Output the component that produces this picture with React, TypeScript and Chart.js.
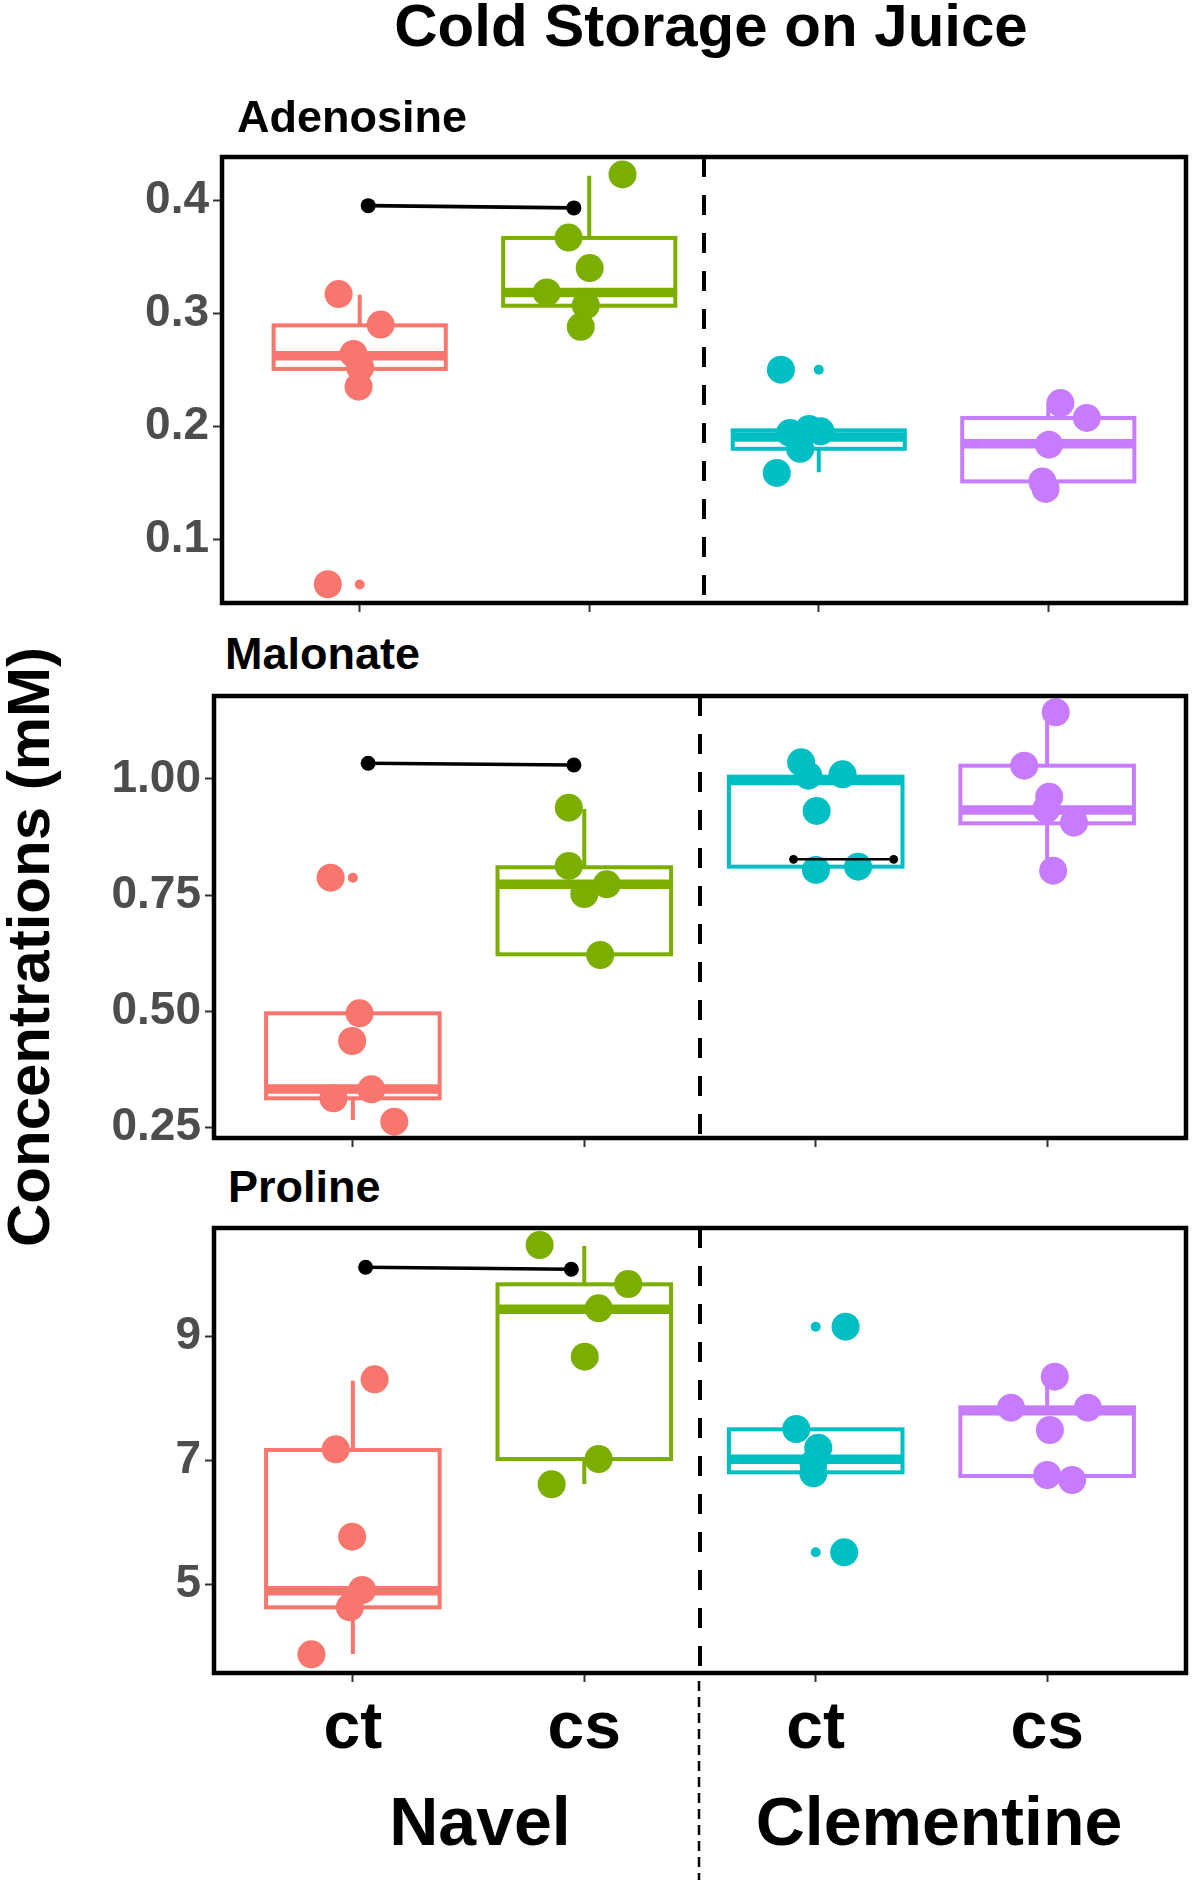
import React, { useEffect, useRef } from 'react';
import { Chart, registerables } from 'chart.js';

Chart.register(...registerables);

// ---------- shared categories ----------
const CATEGORY_LABELS = ['ct', 'cs', 'ct', 'cs'];
const CATEGORY_POS = [1, 2, 3, 4];
const VARIETY_LABELS = ['Navel', 'Clementine'];
const GROUP_COLORS = ['#F8766D', '#7CAE00', '#00BFC4', '#C77CFF'];
const X_RANGE = [0.4, 4.6];
const DIVIDER_X = 2.5;
const BOX_HALF_WIDTH = 0.375;
const CHART_TITLE = 'Cold Storage on Juice';
const Y_TITLE = 'Concentrations (mM)';

// ---------- Adenosine ----------
const ADENOSINE_Y_RANGE = [0.0434, 0.4384];
const ADENOSINE_TICKS = [0.1, 0.2, 0.3, 0.4];
const ADENOSINE_TICK_LABELS = ['0.1', '0.2', '0.3', '0.4'];
const ADENOSINE_VALUES = [
  [0.317, 0.29, 0.264, 0.252, 0.235, 0.06],
  [0.423, 0.367, 0.34, 0.3185, 0.307, 0.288],
  [0.25, 0.194, 0.1975, 0.1954, 0.18, 0.1586],
  [0.2205, 0.2073, 0.1836, 0.1511, 0.1444],
];
const ADENOSINE_JITTER = [
  [-0.092, 0.091, -0.027, 0.002, -0.005, -0.139],
  [0.145, -0.09, 0.002, -0.185, -0.015, -0.037],
  [-0.165, -0.125, -0.042, 0.008, -0.081, -0.183],
  [0.053, 0.168, 0.003, -0.026, -0.012],
];
const ADENOSINE_Q1 = [0.2507, 0.3067, 0.18, 0.1511];
const ADENOSINE_MEDIAN = [0.2624, 0.3185, 0.1904, 0.1845];
const ADENOSINE_Q3 = [0.2893, 0.3667, 0.1963, 0.2073];
const ADENOSINE_WHISKER_LOW = [0.235, 0.288, 0.1591, 0.1444];
const ADENOSINE_WHISKER_HIGH = [0.3165, 0.4219, 0.1975, 0.2205];
const ADENOSINE_OUTLIERS = [[0.0598], [], [0.25], []];
const ADENOSINE_SIG_X = [1.037, 1.933];
const ADENOSINE_SIG_Y = [0.3953, 0.3933];

// ---------- Malonate ----------
const MALONATE_Y_RANGE = [0.2278, 1.1785];
const MALONATE_TICKS = [0.25, 0.5, 0.75, 1.0];
const MALONATE_TICK_LABELS = ['0.25', '0.50', '0.75', '1.00'];
const MALONATE_VALUES = [
  [0.7877, 0.496, 0.4364, 0.3325, 0.3132, 0.2629],
  [0.9383, 0.8129, 0.7735, 0.7526, 0.6214],
  [1.0359, 1.0071, 1.0101, 0.9312, 0.8043, 0.8114],
  [1.1435, 1.0286, 0.962, 0.9355, 0.906, 0.8028],
];
const MALONATE_JITTER = [
  [-0.096, 0.029, -0.003, 0.08, -0.084, 0.179],
  [-0.067, -0.067, 0.097, 0.0, 0.069],
  [-0.063, -0.032, 0.116, 0.004, 0.001, 0.183],
  [0.037, -0.099, 0.009, -0.003, 0.116, 0.026],
];
const MALONATE_Q1 = [0.3132, 0.6229, 0.8114, 0.9047];
const MALONATE_MEDIAN = [0.3332, 0.7735, 0.997, 0.9333];
const MALONATE_Q3 = [0.496, 0.8101, 1.005, 1.0286];
const MALONATE_WHISKER_LOW = [0.2665, 0.6214, 0.8043, 0.8043];
const MALONATE_WHISKER_HIGH = [0.496, 0.9355, 1.005, 1.1434];
const MALONATE_OUTLIERS = [[0.7877], [], [], []];
const MALONATE_SIG_X = [1.066, 1.955];
const MALONATE_SIG_Y = [1.0338, 1.0301];
const MALONATE_SIG2_X = [2.904, 3.337];
const MALONATE_SIG2_Y = [0.8273, 0.8273];

// ---------- Proline ----------
const PROLINE_Y_RANGE = [3.567, 10.756];
const PROLINE_TICKS = [5, 7, 9];
const PROLINE_TICK_LABELS = ['5', '7', '9'];
const PROLINE_VALUES = [
  [8.312, 7.181, 5.769, 4.908, 4.628, 3.869],
  [10.481, 9.851, 9.458, 8.677, 7.024, 6.616],
  [9.162, 7.509, 7.207, 6.955, 6.793, 5.517],
  [8.354, 7.853, 7.853, 7.493, 6.766, 6.685],
];
const PROLINE_JITTER = [
  [0.094, -0.074, -0.003, 0.04, -0.013, -0.179],
  [-0.193, 0.19, 0.062, 0.002, 0.062, -0.141],
  [0.129, -0.084, 0.011, -0.01, -0.01, 0.123],
  [0.033, -0.156, 0.176, 0.012, 0.0, 0.108],
];
const PROLINE_Q1 = [4.628, 7.024, 6.809, 6.75];
const PROLINE_MEDIAN = [4.897, 9.443, 7.019, 7.805];
const PROLINE_Q3 = [7.17, 9.846, 7.504, 7.859];
const PROLINE_WHISKER_LOW = [3.874, 6.62, 6.793, 6.685];
const PROLINE_WHISKER_HIGH = [8.289, 10.465, 7.504, 8.344];
const PROLINE_OUTLIERS = [[], [], [9.162, 5.517], []];
const PROLINE_SIG_X = [1.055, 1.944];
const PROLINE_SIG_Y = [10.121, 10.089];

const FONT = "'Liberation Sans', Arial, Helvetica, sans-serif";

type Sig = { x: number[]; y: number[]; width: number; radius: number };
type PanelData = {
  title: string;
  yRange: number[];
  ticks: number[];
  tickLabels: string[];
  values: number[][];
  jitter: number[][];
  q1: number[];
  med: number[];
  q3: number[];
  lo: number[];
  hi: number[];
  outliers: number[][];
  sigs: Sig[];
};
type PanelLayout = {
  canvasTop: number;
  canvasHeight: number;
  plotTop: number;
  plotLeft: number;
  plotRight: number;
  xAxisHeight: number;
  showX: boolean;
  titleLeft: number;
  titleBaseline: number;
};

const PANELS: { data: PanelData; layout: PanelLayout }[] = [
  {
    data: {
      title: 'Adenosine',
      yRange: ADENOSINE_Y_RANGE,
      ticks: ADENOSINE_TICKS,
      tickLabels: ADENOSINE_TICK_LABELS,
      values: ADENOSINE_VALUES,
      jitter: ADENOSINE_JITTER,
      q1: ADENOSINE_Q1,
      med: ADENOSINE_MEDIAN,
      q3: ADENOSINE_Q3,
      lo: ADENOSINE_WHISKER_LOW,
      hi: ADENOSINE_WHISKER_HIGH,
      outliers: ADENOSINE_OUTLIERS,
      sigs: [{ x: ADENOSINE_SIG_X, y: ADENOSINE_SIG_Y, width: 3.6, radius: 7.5 }],
    },
    layout: {
      canvasTop: 140, canvasHeight: 480, plotTop: 157, plotLeft: 222, plotRight: 1194,
      xAxisHeight: 17, showX: false, titleLeft: 237, titleBaseline: 132,
    },
  },
  {
    data: {
      title: 'Malonate',
      yRange: MALONATE_Y_RANGE,
      ticks: MALONATE_TICKS,
      tickLabels: MALONATE_TICK_LABELS,
      values: MALONATE_VALUES,
      jitter: MALONATE_JITTER,
      q1: MALONATE_Q1,
      med: MALONATE_MEDIAN,
      q3: MALONATE_Q3,
      lo: MALONATE_WHISKER_LOW,
      hi: MALONATE_WHISKER_HIGH,
      outliers: MALONATE_OUTLIERS,
      sigs: [
        { x: MALONATE_SIG_X, y: MALONATE_SIG_Y, width: 3.6, radius: 7.5 },
        { x: MALONATE_SIG2_X, y: MALONATE_SIG2_Y, width: 2.4, radius: 4.4 },
      ],
    },
    layout: {
      canvasTop: 680, canvasHeight: 475, plotTop: 696, plotLeft: 214, plotRight: 1194,
      xAxisHeight: 17, showX: false, titleLeft: 225, titleBaseline: 669,
    },
  },
  {
    data: {
      title: 'Proline',
      yRange: PROLINE_Y_RANGE,
      ticks: PROLINE_TICKS,
      tickLabels: PROLINE_TICK_LABELS,
      values: PROLINE_VALUES,
      jitter: PROLINE_JITTER,
      q1: PROLINE_Q1,
      med: PROLINE_MEDIAN,
      q3: PROLINE_Q3,
      lo: PROLINE_WHISKER_LOW,
      hi: PROLINE_WHISKER_HIGH,
      outliers: PROLINE_OUTLIERS,
      sigs: [{ x: PROLINE_SIG_X, y: PROLINE_SIG_Y, width: 3.6, radius: 7.5 }],
    },
    layout: {
      canvasTop: 1212, canvasHeight: 668, plotTop: 1228, plotLeft: 214, plotRight: 1194,
      xAxisHeight: 207, showX: true, titleLeft: 228, titleBaseline: 1202,
    },
  },
];

function makeBoxPlugin(p: PanelData) {
  return {
    id: 'boxes',
    beforeDatasetsDraw(chart: any) {
      const { ctx } = chart;
      const x = chart.scales.x;
      const y = chart.scales.y;
      ctx.save();
      p.q1.forEach((_: number, g: number) => {
        const color = GROUP_COLORS[g];
        const cx = x.getPixelForValue(CATEGORY_POS[g]);
        const xl = x.getPixelForValue(CATEGORY_POS[g] - BOX_HALF_WIDTH);
        const xr = x.getPixelForValue(CATEGORY_POS[g] + BOX_HALF_WIDTH);
        const yq1 = y.getPixelForValue(p.q1[g]);
        const yq3 = y.getPixelForValue(p.q3[g]);
        const ymed = y.getPixelForValue(p.med[g]);
        const ylo = y.getPixelForValue(p.lo[g]);
        const yhi = y.getPixelForValue(p.hi[g]);
        ctx.strokeStyle = color;
        ctx.lineCap = 'butt';
        ctx.lineJoin = 'miter';
        ctx.lineWidth = 4;
        ctx.beginPath();
        ctx.moveTo(cx, yq3);
        ctx.lineTo(cx, yhi);
        ctx.moveTo(cx, yq1);
        ctx.lineTo(cx, ylo);
        ctx.stroke();
        ctx.fillStyle = '#ffffff';
        ctx.fillRect(xl, yq3, xr - xl, yq1 - yq3);
        ctx.strokeRect(xl, yq3, xr - xl, yq1 - yq3);
        ctx.lineWidth = 9.5;
        ctx.beginPath();
        ctx.moveTo(xl, ymed);
        ctx.lineTo(xr, ymed);
        ctx.stroke();
        ctx.fillStyle = color;
        p.outliers[g].forEach((v: number) => {
          ctx.beginPath();
          ctx.arc(cx, y.getPixelForValue(v), 5, 0, Math.PI * 2);
          ctx.fill();
        });
      });
      ctx.restore();
    },
  };
}

function makeFramePlugin(extendDivider: boolean) {
  return {
    id: 'frame',
    afterDatasetsDraw(chart: any) {
      const { ctx, chartArea: a } = chart;
      const x = chart.scales.x;
      const dx = x.getPixelForValue(DIVIDER_X);
      ctx.save();
      ctx.strokeStyle = '#000';
      ctx.lineWidth = 4;
      ctx.setLineDash([20, 18]);
      ctx.beginPath();
      ctx.moveTo(dx, a.top);
      ctx.lineTo(dx, a.bottom);
      ctx.stroke();
      if (extendDivider) {
        ctx.lineWidth = 2.5;
        ctx.setLineDash([10, 6]);
        ctx.beginPath();
        ctx.moveTo(dx - 1, a.bottom + 8);
        ctx.lineTo(dx - 1, chart.height);
        ctx.stroke();
      }
      ctx.setLineDash([]);
      ctx.lineWidth = 4.5;
      ctx.strokeRect(a.left, a.top, a.right - a.left, a.bottom - a.top);
      ctx.restore();
    },
  };
}

function Panel({ data, layout }: { data: PanelData; layout: PanelLayout }) {
  const ref = useRef<HTMLCanvasElement | null>(null);
  useEffect(() => {
    const canvas = ref.current;
    if (!canvas) return;
    const datasets: any[] = [];
    data.sigs.forEach((s) => {
      datasets.push({
        type: 'line',
        data: s.x.map((xv, i) => ({ x: xv, y: s.y[i] })),
        borderColor: '#000',
        borderWidth: s.width,
        pointRadius: s.radius,
        pointBackgroundColor: '#000',
        pointBorderWidth: 0,
        tension: 0,
        fill: false,
        order: 0,
      });
    });
    data.values.forEach((vals, g) => {
      datasets.push({
        type: 'scatter',
        data: vals.map((v, i) => ({ x: CATEGORY_POS[g] + data.jitter[g][i], y: v })),
        backgroundColor: GROUP_COLORS[g],
        borderColor: GROUP_COLORS[g],
        pointRadius: 14,
        pointBorderWidth: 0,
        order: 1,
      });
    });
    const chart = new Chart(canvas, {
      type: 'scatter',
      data: { datasets },
      options: {
        responsive: false,
        animation: false,
        devicePixelRatio: 1,
        events: [],
        layout: {
          padding: {
            top: layout.plotTop - layout.canvasTop,
            right: 1200 - layout.plotRight,
            bottom: 0,
            left: 0,
          },
        },
        plugins: {
          legend: { display: false },
          tooltip: { enabled: false },
          title: { display: false },
        },
        scales: {
          x: {
            type: 'linear',
            min: X_RANGE[0],
            max: X_RANGE[1],
            afterBuildTicks: (s: any) => {
              s.ticks = CATEGORY_POS.map((v) => ({ value: v }));
            },
            afterFit: (s: any) => {
              s.height = layout.xAxisHeight;
              s.paddingLeft = 0;
              s.paddingRight = 0;
              s.paddingTop = 0;
              s.paddingBottom = 0;
            },
            ticks: {
              autoSkip: false,
              maxRotation: 0,
              minRotation: 0,
              padding: 8,
              color: '#000',
              font: { family: FONT, size: 66, weight: 'bold' },
              callback: (_v: any, i: number) => (layout.showX ? CATEGORY_LABELS[i] : ''),
            },
            grid: {
              drawOnChartArea: false,
              drawTicks: true,
              tickLength: 9,
              tickColor: '#333',
              tickWidth: 2,
              color: '#333',
            },
            border: { display: false },
          },
          y: {
            type: 'linear',
            min: data.yRange[0],
            max: data.yRange[1],
            afterBuildTicks: (s: any) => {
              s.ticks = data.ticks.map((v) => ({ value: v }));
            },
            afterFit: (s: any) => {
              s.width = layout.plotLeft;
              s.paddingLeft = 0;
              s.paddingRight = 0;
              s.paddingTop = 0;
              s.paddingBottom = 0;
            },
            ticks: {
              autoSkip: false,
              padding: 4,
              color: '#4D4D4D',
              font: { family: FONT, size: 46, weight: 'bold' },
              callback: (_v: any, i: number) => data.tickLabels[i],
            },
            grid: {
              drawOnChartArea: false,
              drawTicks: true,
              tickLength: 9,
              tickColor: '#333',
              tickWidth: 2,
              color: '#333',
            },
            border: { display: false },
          },
        },
      } as any,
      plugins: [makeBoxPlugin(data), makeFramePlugin(layout.showX)],
    });
    return () => chart.destroy();
  }, []);
  return (
    <canvas
      ref={ref}
      width={1200}
      height={layout.canvasHeight}
      style={{
        position: 'absolute',
        left: 0,
        top: layout.canvasTop,
        width: 1200,
        height: layout.canvasHeight,
      }}
    />
  );
}

const ASCENT = 0.8465;

function Text({
  text, size, left, baseline, align = 'left', width = 0,
}: { text: string; size: number; left: number; baseline: number; align?: 'left' | 'center'; width?: number }) {
  return (
    <div
      style={{
        position: 'absolute',
        left: align === 'center' ? left - width / 2 : left,
        width: align === 'center' ? width : undefined,
        top: baseline - ASCENT * size,
        fontFamily: FONT,
        fontWeight: 'bold',
        fontSize: size,
        lineHeight: `${size}px`,
        color: '#000',
        whiteSpace: 'nowrap',
        textAlign: align,
      }}
    >
      {text}
    </div>
  );
}

export default function App() {
  return (
    <div
      style={{
        position: 'absolute',
        left: 0,
        top: 0,
        width: 1200,
        height: 1880,
        background: '#fff',
        overflow: 'hidden',
      }}
    >
      {PANELS.map((p, i) => (
        <Panel key={i} data={p.data} layout={p.layout} />
      ))}
      <Text text={CHART_TITLE} size={60} left={711} baseline={47} align="center" width={900} />
      {PANELS.map((p, i) => (
        <Text key={'t' + i} text={p.data.title} size={45} left={p.layout.titleLeft} baseline={p.layout.titleBaseline} />
      ))}
      <div
        style={{
          position: 'absolute',
          left: 29 - 400,
          top: 947 - 30,
          width: 800,
          height: 60,
          fontFamily: FONT,
          fontWeight: 'bold',
          fontSize: 60,
          lineHeight: '60px',
          textAlign: 'center',
          whiteSpace: 'nowrap',
          color: '#000',
          transform: 'rotate(-90deg)',
          transformOrigin: 'center center',
        }}
      >
        {Y_TITLE}
      </div>
      <Text text={VARIETY_LABELS[0]} size={68} left={480} baseline={1845} align="center" width={400} />
      <Text text={VARIETY_LABELS[1]} size={68} left={939} baseline={1845} align="center" width={500} />
    </div>
  );
}
